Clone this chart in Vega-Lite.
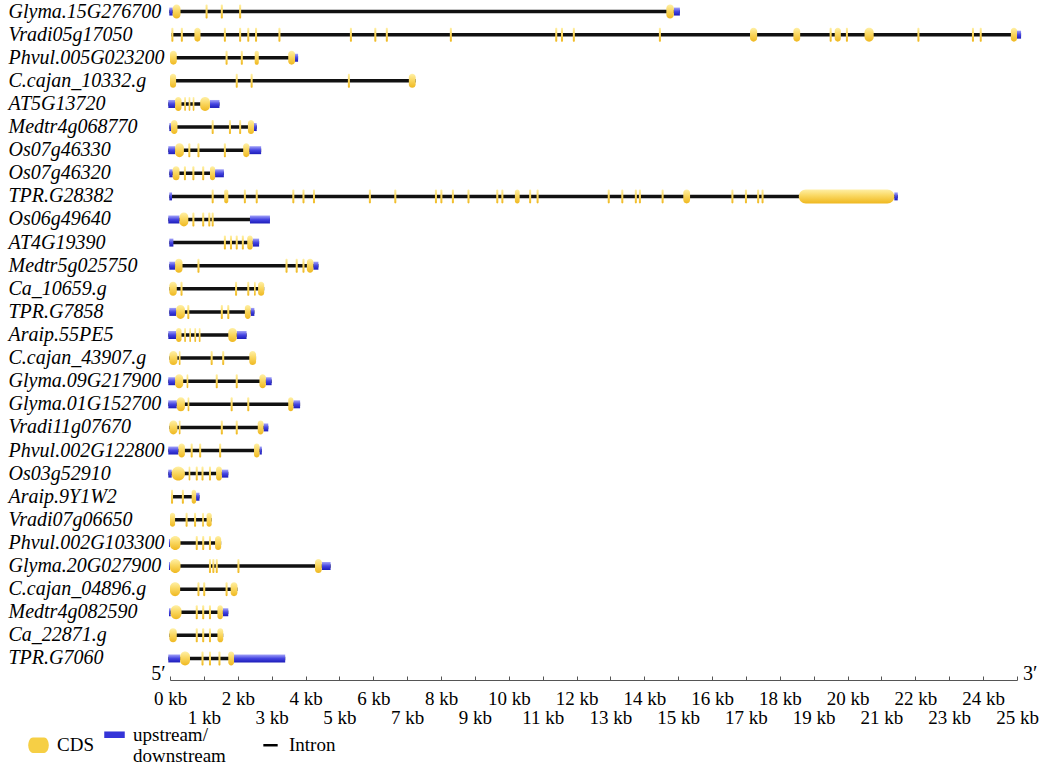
{
"$schema":"https://vega.github.io/schema/vega-lite/v6.json",
"width":847,"height":670,
"autosize":{"type":"none"},
"padding":{"left":170,"top":0,"right":31,"bottom":99},
"background":"white",
"config":{"view":{"stroke":null},"font":"Liberation Serif"},
"datasets":{
"feat":[
{"g":"Glyma.15G276700","t":"U","s":-0.02,"e":0.08},{"g":"Glyma.15G276700","t":"C","s":0.08,"e":0.31},{"g":"Glyma.15G276700","t":"C","s":1.05,"e":1.11},{"g":"Glyma.15G276700","t":"C","s":1.5,"e":1.56},{"g":"Glyma.15G276700","t":"C","s":2.04,"e":2.1},{"g":"Glyma.15G276700","t":"C","s":14.65,"e":14.87},{"g":"Glyma.15G276700","t":"U","s":14.87,"e":15.05},
{"g":"Vradi05g17050","t":"C","s":0.04,"e":0.1},{"g":"Vradi05g17050","t":"C","s":0.32,"e":0.38},{"g":"Vradi05g17050","t":"C","s":0.72,"e":0.9},{"g":"Vradi05g17050","t":"C","s":1.59,"e":1.65},{"g":"Vradi05g17050","t":"C","s":2.04,"e":2.1},{"g":"Vradi05g17050","t":"C","s":2.28,"e":2.34},{"g":"Vradi05g17050","t":"C","s":2.51,"e":2.57},{"g":"Vradi05g17050","t":"C","s":3.2,"e":3.26},{"g":"Vradi05g17050","t":"C","s":5.31,"e":5.37},{"g":"Vradi05g17050","t":"C","s":6.03,"e":6.09},{"g":"Vradi05g17050","t":"C","s":6.37,"e":6.43},{"g":"Vradi05g17050","t":"C","s":8.26,"e":8.32},{"g":"Vradi05g17050","t":"C","s":11.37,"e":11.43},{"g":"Vradi05g17050","t":"C","s":11.54,"e":11.6},{"g":"Vradi05g17050","t":"C","s":11.89,"e":11.95},{"g":"Vradi05g17050","t":"C","s":14.43,"e":14.49},{"g":"Vradi05g17050","t":"C","s":17.12,"e":17.33},{"g":"Vradi05g17050","t":"C","s":18.4,"e":18.6},{"g":"Vradi05g17050","t":"C","s":19.47,"e":19.53},{"g":"Vradi05g17050","t":"C","s":19.62,"e":19.8},{"g":"Vradi05g17050","t":"C","s":19.95,"e":20.01},{"g":"Vradi05g17050","t":"C","s":20.5,"e":20.77},{"g":"Vradi05g17050","t":"C","s":22.06,"e":22.12},{"g":"Vradi05g17050","t":"C","s":23.67,"e":23.73},{"g":"Vradi05g17050","t":"C","s":23.9,"e":23.96},{"g":"Vradi05g17050","t":"C","s":24.82,"e":25.0},{"g":"Vradi05g17050","t":"U","s":25.0,"e":25.12},
{"g":"Phvul.005G023200","t":"C","s":0.0,"e":0.2},{"g":"Phvul.005G023200","t":"C","s":1.64,"e":1.7},{"g":"Phvul.005G023200","t":"C","s":2.09,"e":2.15},{"g":"Phvul.005G023200","t":"C","s":2.5,"e":2.62},{"g":"Phvul.005G023200","t":"C","s":3.49,"e":3.69},{"g":"Phvul.005G023200","t":"U","s":3.69,"e":3.78},
{"g":"C.cajan_10332.g","t":"C","s":0.0,"e":0.18},{"g":"C.cajan_10332.g","t":"C","s":1.94,"e":2.0},{"g":"C.cajan_10332.g","t":"C","s":2.38,"e":2.44},{"g":"C.cajan_10332.g","t":"C","s":5.25,"e":5.31},{"g":"C.cajan_10332.g","t":"C","s":7.05,"e":7.25},
{"g":"AT5G13720","t":"U","s":-0.05,"e":0.15},{"g":"AT5G13720","t":"C","s":0.15,"e":0.34},{"g":"AT5G13720","t":"C","s":0.42,"e":0.47},{"g":"AT5G13720","t":"C","s":0.55,"e":0.6},{"g":"AT5G13720","t":"C","s":0.67,"e":0.72},{"g":"AT5G13720","t":"C","s":0.89,"e":1.18},{"g":"AT5G13720","t":"U","s":1.18,"e":1.46},
{"g":"Medtr4g068770","t":"U","s":-0.02,"e":0.03},{"g":"Medtr4g068770","t":"C","s":0.03,"e":0.22},{"g":"Medtr4g068770","t":"C","s":1.23,"e":1.29},{"g":"Medtr4g068770","t":"C","s":1.74,"e":1.8},{"g":"Medtr4g068770","t":"C","s":2.04,"e":2.1},{"g":"Medtr4g068770","t":"C","s":2.3,"e":2.48},{"g":"Medtr4g068770","t":"U","s":2.48,"e":2.56},
{"g":"Os07g46330","t":"U","s":-0.05,"e":0.15},{"g":"Os07g46330","t":"C","s":0.15,"e":0.41},{"g":"Os07g46330","t":"C","s":0.54,"e":0.6},{"g":"Os07g46330","t":"C","s":0.81,"e":0.87},{"g":"Os07g46330","t":"C","s":1.59,"e":1.65},{"g":"Os07g46330","t":"C","s":2.16,"e":2.34},{"g":"Os07g46330","t":"U","s":2.34,"e":2.69},
{"g":"Os07g46320","t":"U","s":-0.02,"e":0.08},{"g":"Os07g46320","t":"C","s":0.08,"e":0.28},{"g":"Os07g46320","t":"C","s":0.41,"e":0.47},{"g":"Os07g46320","t":"C","s":0.66,"e":0.72},{"g":"Os07g46320","t":"C","s":0.95,"e":1.01},{"g":"Os07g46320","t":"C","s":1.18,"e":1.33},{"g":"Os07g46320","t":"U","s":1.33,"e":1.59},
{"g":"TPR.G28382","t":"U","s":-0.02,"e":0.06},{"g":"TPR.G28382","t":"C","s":1.23,"e":1.29},{"g":"TPR.G28382","t":"C","s":1.6,"e":1.72},{"g":"TPR.G28382","t":"C","s":2.18,"e":2.24},{"g":"TPR.G28382","t":"C","s":2.53,"e":2.59},{"g":"TPR.G28382","t":"C","s":3.61,"e":3.67},{"g":"TPR.G28382","t":"C","s":3.91,"e":3.97},{"g":"TPR.G28382","t":"C","s":4.22,"e":4.28},{"g":"TPR.G28382","t":"C","s":5.87,"e":5.93},{"g":"TPR.G28382","t":"C","s":6.62,"e":6.68},{"g":"TPR.G28382","t":"C","s":7.82,"e":7.88},{"g":"TPR.G28382","t":"C","s":7.98,"e":8.04},{"g":"TPR.G28382","t":"C","s":8.32,"e":8.38},{"g":"TPR.G28382","t":"C","s":8.78,"e":8.84},{"g":"TPR.G28382","t":"C","s":9.63,"e":9.69},{"g":"TPR.G28382","t":"C","s":9.78,"e":9.84},{"g":"TPR.G28382","t":"C","s":10.18,"e":10.32},{"g":"TPR.G28382","t":"C","s":10.6,"e":10.66},{"g":"TPR.G28382","t":"C","s":10.82,"e":10.88},{"g":"TPR.G28382","t":"C","s":12.92,"e":12.98},{"g":"TPR.G28382","t":"C","s":13.32,"e":13.38},{"g":"TPR.G28382","t":"C","s":13.72,"e":13.78},{"g":"TPR.G28382","t":"C","s":13.84,"e":13.9},{"g":"TPR.G28382","t":"C","s":14.51,"e":14.57},{"g":"TPR.G28382","t":"C","s":15.15,"e":15.35},{"g":"TPR.G28382","t":"C","s":16.57,"e":16.63},{"g":"TPR.G28382","t":"C","s":16.97,"e":17.03},{"g":"TPR.G28382","t":"C","s":17.33,"e":17.39},{"g":"TPR.G28382","t":"C","s":17.46,"e":17.52},{"g":"TPR.G28382","t":"C","s":18.56,"e":21.38},{"g":"TPR.G28382","t":"U","s":21.38,"e":21.48},
{"g":"Os06g49640","t":"U","s":-0.05,"e":0.28},{"g":"Os06g49640","t":"C","s":0.28,"e":0.54},{"g":"Os06g49640","t":"C","s":0.66,"e":0.72},{"g":"Os06g49640","t":"C","s":0.95,"e":1.01},{"g":"Os06g49640","t":"C","s":1.13,"e":1.19},{"g":"Os06g49640","t":"C","s":1.23,"e":1.29},{"g":"Os06g49640","t":"U","s":2.36,"e":2.95},
{"g":"AT4G19390","t":"U","s":-0.02,"e":0.1},{"g":"AT4G19390","t":"C","s":1.59,"e":1.65},{"g":"AT4G19390","t":"C","s":1.77,"e":1.83},{"g":"AT4G19390","t":"C","s":1.94,"e":2.0},{"g":"AT4G19390","t":"C","s":2.12,"e":2.18},{"g":"AT4G19390","t":"C","s":2.28,"e":2.44},{"g":"AT4G19390","t":"U","s":2.44,"e":2.63},
{"g":"Medtr5g025750","t":"U","s":-0.02,"e":0.15},{"g":"Medtr5g025750","t":"C","s":0.15,"e":0.37},{"g":"Medtr5g025750","t":"C","s":0.81,"e":0.87},{"g":"Medtr5g025750","t":"C","s":3.41,"e":3.47},{"g":"Medtr5g025750","t":"C","s":3.71,"e":3.77},{"g":"Medtr5g025750","t":"C","s":3.91,"e":3.97},{"g":"Medtr5g025750","t":"C","s":4.04,"e":4.23},{"g":"Medtr5g025750","t":"U","s":4.23,"e":4.38},
{"g":"Ca_10659.g","t":"C","s":-0.02,"e":0.2},{"g":"Ca_10659.g","t":"C","s":0.31,"e":0.37},{"g":"Ca_10659.g","t":"C","s":1.92,"e":1.98},{"g":"Ca_10659.g","t":"C","s":2.28,"e":2.34},{"g":"Ca_10659.g","t":"C","s":2.48,"e":2.53},{"g":"Ca_10659.g","t":"C","s":2.6,"e":2.78},
{"g":"TPR.G7858","t":"U","s":-0.02,"e":0.18},{"g":"TPR.G7858","t":"C","s":0.18,"e":0.44},{"g":"TPR.G7858","t":"C","s":0.51,"e":0.57},{"g":"TPR.G7858","t":"C","s":1.5,"e":1.56},{"g":"TPR.G7858","t":"C","s":1.69,"e":1.75},{"g":"TPR.G7858","t":"C","s":2.21,"e":2.38},{"g":"TPR.G7858","t":"U","s":2.38,"e":2.49},
{"g":"Araip.55PE5","t":"U","s":-0.05,"e":0.18},{"g":"Araip.55PE5","t":"C","s":0.18,"e":0.34},{"g":"Araip.55PE5","t":"C","s":0.42,"e":0.47},{"g":"Araip.55PE5","t":"C","s":0.57,"e":0.62},{"g":"Araip.55PE5","t":"C","s":0.72,"e":0.77},{"g":"Araip.55PE5","t":"C","s":0.85,"e":0.9},{"g":"Araip.55PE5","t":"C","s":1.72,"e":1.97},{"g":"Araip.55PE5","t":"U","s":1.97,"e":2.26},
{"g":"C.cajan_43907.g","t":"C","s":-0.02,"e":0.22},{"g":"C.cajan_43907.g","t":"C","s":0.26,"e":0.31},{"g":"C.cajan_43907.g","t":"C","s":1.2,"e":1.26},{"g":"C.cajan_43907.g","t":"C","s":1.54,"e":1.6},{"g":"C.cajan_43907.g","t":"C","s":2.34,"e":2.54},
{"g":"Glyma.09G217900","t":"U","s":-0.05,"e":0.15},{"g":"Glyma.09G217900","t":"C","s":0.15,"e":0.39},{"g":"Glyma.09G217900","t":"C","s":0.49,"e":0.54},{"g":"Glyma.09G217900","t":"C","s":1.35,"e":1.41},{"g":"Glyma.09G217900","t":"C","s":1.94,"e":2.0},{"g":"Glyma.09G217900","t":"C","s":2.64,"e":2.83},{"g":"Glyma.09G217900","t":"U","s":2.83,"e":3.0},
{"g":"Glyma.01G152700","t":"U","s":-0.05,"e":0.2},{"g":"Glyma.01G152700","t":"C","s":0.2,"e":0.44},{"g":"Glyma.01G152700","t":"C","s":0.52,"e":0.57},{"g":"Glyma.01G152700","t":"C","s":1.79,"e":1.85},{"g":"Glyma.01G152700","t":"C","s":2.28,"e":2.34},{"g":"Glyma.01G152700","t":"C","s":3.49,"e":3.64},{"g":"Glyma.01G152700","t":"U","s":3.64,"e":3.84},
{"g":"Vradi11g07670","t":"C","s":-0.02,"e":0.22},{"g":"Vradi11g07670","t":"C","s":0.26,"e":0.31},{"g":"Vradi11g07670","t":"C","s":1.5,"e":1.56},{"g":"Vradi11g07670","t":"C","s":1.94,"e":2.0},{"g":"Vradi11g07670","t":"C","s":2.59,"e":2.76},{"g":"Vradi11g07670","t":"U","s":2.76,"e":2.9},
{"g":"Phvul.002G122800","t":"U","s":-0.05,"e":0.25},{"g":"Phvul.002G122800","t":"C","s":0.25,"e":0.44},{"g":"Phvul.002G122800","t":"C","s":0.61,"e":0.67},{"g":"Phvul.002G122800","t":"C","s":0.86,"e":0.92},{"g":"Phvul.002G122800","t":"C","s":1.45,"e":1.51},{"g":"Phvul.002G122800","t":"C","s":2.48,"e":2.64},{"g":"Phvul.002G122800","t":"U","s":2.64,"e":2.71},
{"g":"Os03g52910","t":"U","s":-0.05,"e":0.05},{"g":"Os03g52910","t":"C","s":0.05,"e":0.44},{"g":"Os03g52910","t":"C","s":0.55,"e":0.6},{"g":"Os03g52910","t":"C","s":0.76,"e":0.82},{"g":"Os03g52910","t":"C","s":0.93,"e":0.99},{"g":"Os03g52910","t":"C","s":1.15,"e":1.21},{"g":"Os03g52910","t":"C","s":1.36,"e":1.53},{"g":"Os03g52910","t":"U","s":1.53,"e":1.72},
{"g":"Araip.9Y1W2","t":"C","s":0.03,"e":0.09},{"g":"Araip.9Y1W2","t":"C","s":0.35,"e":0.41},{"g":"Araip.9Y1W2","t":"C","s":0.64,"e":0.77},{"g":"Araip.9Y1W2","t":"U","s":0.77,"e":0.87},
{"g":"Vradi07g06650","t":"C","s":0.0,"e":0.15},{"g":"Vradi07g06650","t":"C","s":0.46,"e":0.52},{"g":"Vradi07g06650","t":"C","s":0.71,"e":0.77},{"g":"Vradi07g06650","t":"C","s":0.95,"e":1.0},{"g":"Vradi07g06650","t":"C","s":1.08,"e":1.23},
{"g":"Phvul.002G103300","t":"U","s":-0.03,"e":0.0},{"g":"Phvul.002G103300","t":"C","s":0.0,"e":0.31},{"g":"Phvul.002G103300","t":"C","s":0.76,"e":0.82},{"g":"Phvul.002G103300","t":"C","s":0.95,"e":1.01},{"g":"Phvul.002G103300","t":"C","s":1.15,"e":1.21},{"g":"Phvul.002G103300","t":"C","s":1.33,"e":1.51},
{"g":"Glyma.20G027900","t":"U","s":-0.03,"e":0.0},{"g":"Glyma.20G027900","t":"C","s":0.0,"e":0.31},{"g":"Glyma.20G027900","t":"C","s":1.15,"e":1.21},{"g":"Glyma.20G027900","t":"C","s":1.25,"e":1.31},{"g":"Glyma.20G027900","t":"C","s":1.35,"e":1.41},{"g":"Glyma.20G027900","t":"C","s":1.99,"e":2.05},{"g":"Glyma.20G027900","t":"C","s":4.28,"e":4.48},{"g":"Glyma.20G027900","t":"U","s":4.48,"e":4.74},
{"g":"C.cajan_04896.g","t":"C","s":0.0,"e":0.3},{"g":"C.cajan_04896.g","t":"C","s":0.81,"e":0.87},{"g":"C.cajan_04896.g","t":"C","s":0.98,"e":1.04},{"g":"C.cajan_04896.g","t":"C","s":1.64,"e":1.7},{"g":"C.cajan_04896.g","t":"C","s":1.79,"e":1.99},
{"g":"Medtr4g082590","t":"U","s":-0.03,"e":0.02},{"g":"Medtr4g082590","t":"C","s":0.02,"e":0.34},{"g":"Medtr4g082590","t":"C","s":0.76,"e":0.82},{"g":"Medtr4g082590","t":"C","s":0.95,"e":1.01},{"g":"Medtr4g082590","t":"C","s":1.15,"e":1.21},{"g":"Medtr4g082590","t":"C","s":1.4,"e":1.56},{"g":"Medtr4g082590","t":"U","s":1.56,"e":1.72},
{"g":"Ca_22871.g","t":"C","s":-0.02,"e":0.2},{"g":"Ca_22871.g","t":"C","s":0.76,"e":0.82},{"g":"Ca_22871.g","t":"C","s":0.95,"e":1.01},{"g":"Ca_22871.g","t":"C","s":1.15,"e":1.21},{"g":"Ca_22871.g","t":"C","s":1.4,"e":1.57},
{"g":"TPR.G7060","t":"U","s":-0.05,"e":0.3},{"g":"TPR.G7060","t":"C","s":0.3,"e":0.59},{"g":"TPR.G7060","t":"C","s":0.93,"e":0.99},{"g":"TPR.G7060","t":"C","s":1.15,"e":1.21},{"g":"TPR.G7060","t":"C","s":1.43,"e":1.49},{"g":"TPR.G7060","t":"C","s":1.72,"e":1.89},{"g":"TPR.G7060","t":"U","s":1.89,"e":3.4}
],
"legend":[{"type":"CDS","g":"TPR.G7060","s":0},{"type":"upstream/downstream","g":"TPR.G7060","s":0},{"type":"Intron","g":"TPR.G7060","s":0}],
"ends":[{"lab":"5′","g":"TPR.G7060","s":-0.55},{"lab":"3′","g":"TPR.G7060","s":25.18}]
},
"encoding":{
"y":{"field":"g","type":"nominal","scale":{"domain":["Glyma.15G276700","Vradi05g17050","Phvul.005G023200","C.cajan_10332.g","AT5G13720","Medtr4g068770","Os07g46330","Os07g46320","TPR.G28382","Os06g49640","AT4G19390","Medtr5g025750","Ca_10659.g","TPR.G7858","Araip.55PE5","C.cajan_43907.g","Glyma.09G217900","Glyma.01G152700","Vradi11g07670","Phvul.002G122800","Os03g52910","Araip.9Y1W2","Vradi07g06650","Phvul.002G103300","Glyma.20G027900","C.cajan_04896.g","Medtr4g082590","Ca_22871.g","TPR.G7060"],"paddingInner":0,"paddingOuter":0},
"axis":{"title":null,"domain":false,"ticks":false,"tickSize":0,"labelAlign":"left","labelPadding":162,"labelFont":"Liberation Serif","labelFontStyle":"italic","labelFontSize":20,"labelColor":"#000","labelLimit":200}},
"x":{"field":"s","type":"quantitative","scale":{"domain":[0,25],"nice":false,"zero":false},
"axis":{"title":null,"grid":false,"values":[0,1,2,3,4,5,6,7,8,9,10,11,12,13,14,15,16,17,18,19,20,21,22,23,24,25],"offset":10,"tickSize":-4,"tickColor":"#555","domainColor":"#555","labelExpr":"datum.value % 2 == 1 ? ['', datum.value + ' kb'] : datum.value + ' kb'","labelOverlap":false,"labelFlush":false,"labelBound":false,"labelFont":"Liberation Serif","labelFontSize":19,"labelColor":"#000","labelPadding":13,"labelLineHeight":19}}
},
"layer":[
{"data":{"name":"feat"},"transform":[{"aggregate":[{"op":"min","field":"s","as":"s"},{"op":"max","field":"e","as":"e"}],"groupby":["g"]}],
 "mark":{"type":"bar","height":3.5,"color":"#111"},
 "encoding":{"x2":{"field":"e"}}},
{"data":{"name":"feat"},"transform":[{"filter":"datum.t == 'U'"}],
 "mark":{"type":"bar","height":8,"color":{"gradient":"linear","x1":0,"y1":0,"x2":0,"y2":1,"stops":[{"offset":0,"color":"#a4a4f8"},{"offset":0.5,"color":"#4545e2"},{"offset":1,"color":"#1c1cb8"}]}},
 "encoding":{"x2":{"field":"e"}}},
{"data":{"name":"feat"},"transform":[{"filter":"datum.t == 'C'"}],
 "mark":{"type":"bar","height":14,"cornerRadius":7,"color":{"gradient":"linear","x1":0,"y1":0,"x2":0,"y2":1,"stops":[{"offset":0,"color":"#fff0a6"},{"offset":0.45,"color":"#fad862"},{"offset":1,"color":"#efb820"}]}},
 "encoding":{"x2":{"field":"e"}}},
{"data":{"name":"legend"},"transform":[{"filter":"datum.s > 1000"}],
 "mark":{"type":"point","filled":true,"opacity":1},
 "encoding":{
  "color":{"field":"type","type":"nominal","scale":{"domain":["CDS","upstream/downstream","Intron"],"range":["#f6cf45","#3434d8","#000000"]},
   "legend":{"title":null,"orient":"none","legendX":-142,"legendY":724,"direction":"horizontal","columnPadding":10,"labelOffset":8,"padding":0,"symbolSize":420,"symbolOpacity":1,"symbolStrokeWidth":0,"labelFont":"Liberation Serif","labelFontSize":19,"labelColor":"#000","labelBaseline":"middle","labelLimit":300,"labelExpr":"datum.label == 'upstream/downstream' ? ['upstream/', 'downstream\u00a0\u00a0\u00a0\u00a0\u00a0\u200b'] : datum.label"}},
  "shape":{"field":"type","type":"nominal","scale":{"domain":["CDS","upstream/downstream","Intron"],"range":["M-0.55,-0.75L0.55,-0.75A0.45,0.75 0 0 1 0.55,0.75L-0.55,0.75A0.45,0.75 0 0 1 -0.55,-0.75Z","M-1,-0.32L1,-0.32L1,0.32L-1,0.32Z","M-0.7,-0.12L0.7,-0.12L0.7,0.12L-0.7,0.12Z"]}}
 }},
{"data":{"name":"ends"},
 "mark":{"type":"text","align":"left","baseline":"alphabetic","dy":22,"fontSize":20,"font":"Liberation Serif","color":"#000"},
 "encoding":{"text":{"field":"lab"}}}
]
}
